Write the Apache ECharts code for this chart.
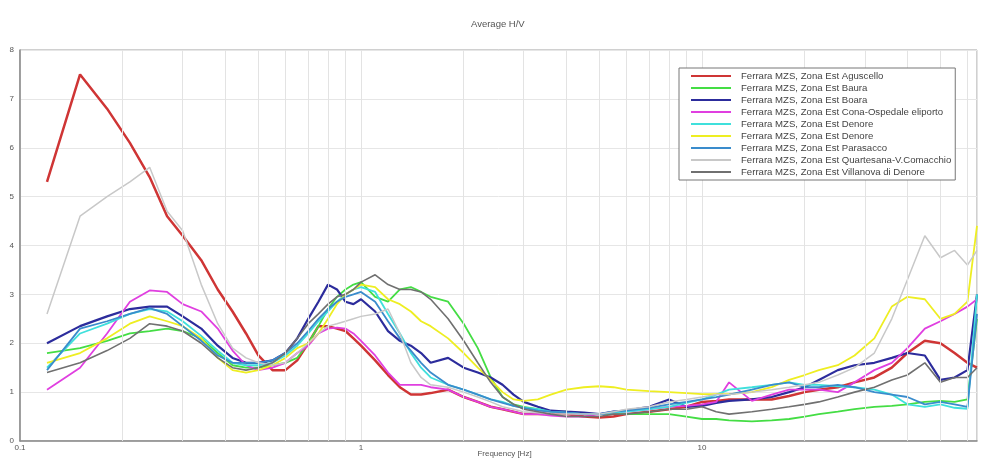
<!DOCTYPE html>
<html>
<head>
<meta charset="utf-8">
<script src="https://cdn.jsdelivr.net/npm/echarts@6/dist/echarts.min.js"></script>
<style>html,body{margin:0;padding:0;background:#fff}#c{width:983px;height:460px}</style>
</head>
<body>
<div id="c"></div>
<script>
const titleText = "Average H/V";
const xAxisName = "Frequency [Hz]";
const xTickLabels = [0.1, 1, 10];
const yTicks = [0, 1, 2, 3, 4, 5, 6, 7, 8];
const minorGrid = [0.2,0.3,0.4,0.5,0.6,0.7,0.8,0.9,2,3,4,5,6,7,8,9,20,30,40,50,60];

const freq = [0.12,0.15,0.18,0.21,0.24,0.27,0.30,0.34,0.38,0.42,0.46,0.5,0.55,0.6,0.65,0.7,0.75,0.8,0.85,0.9,0.95,1.0,1.1,1.2,1.3,1.4,1.5,1.6,1.8,2.0,2.2,2.4,2.6,2.8,3.0,3.3,3.6,4,4.5,5,5.5,6,7,8,9,10,11,12,14,16,18,20,22,25,28,32,36,40,45,50,55,60,64];

const names = [
  "Ferrara MZS, Zona Est Aguscello",
  "Ferrara MZS, Zona Est Baura",
  "Ferrara MZS, Zona Est Boara",
  "Ferrara MZS, Zona Est Cona-Ospedale eliporto",
  "Ferrara MZS, Zona Est Denore",
  "Ferrara MZS, Zona Est Denore ",
  "Ferrara MZS, Zona Est Parasacco",
  "Ferrara MZS, Zona Est Quartesana-V.Comacchio",
  "Ferrara MZS, Zona Est Villanova di Denore"
];
const colors = ["#cf3535","#44dd44","#2c2c9c","#e03fe0","#3fe0dc","#eeee22","#3a8ccc","#c8c8c8","#707070"];
const widths = [2.5,1.8,2.2,1.8,1.8,1.8,1.8,1.5,1.6];

const aguscello = [5.3,7.5,6.8,6.1,5.4,4.6,4.2,3.7,3.1,2.65,2.2,1.75,1.45,1.45,1.65,2.0,2.35,2.35,2.3,2.25,2.1,1.95,1.65,1.35,1.1,0.95,0.95,0.98,1.05,0.9,0.8,0.7,0.65,0.6,0.55,0.55,0.55,0.55,0.5,0.48,0.5,0.55,0.6,0.65,0.7,0.8,0.82,0.85,0.85,0.85,0.92,1.0,1.05,1.1,1.2,1.3,1.5,1.8,2.05,2.0,1.8,1.6,1.5];
const baura = [1.8,1.9,2.05,2.2,2.25,2.3,2.25,2.1,1.8,1.55,1.5,1.5,1.55,1.6,1.7,2.0,2.35,2.7,2.95,3.1,3.2,3.25,2.95,2.85,3.1,3.15,3.05,2.95,2.85,2.4,1.9,1.3,0.9,0.75,0.7,0.65,0.6,0.6,0.55,0.55,0.55,0.55,0.55,0.55,0.5,0.45,0.45,0.42,0.4,0.42,0.45,0.5,0.55,0.6,0.65,0.7,0.72,0.75,0.8,0.82,0.8,0.85,2.5];
const boara = [2.0,2.35,2.55,2.7,2.75,2.75,2.55,2.3,1.95,1.7,1.6,1.6,1.65,1.8,2.1,2.5,2.85,3.2,3.1,2.85,2.8,2.9,2.65,2.25,2.05,1.95,1.8,1.6,1.7,1.5,1.4,1.3,1.15,0.95,0.8,0.7,0.62,0.6,0.58,0.55,0.6,0.62,0.7,0.85,0.7,0.72,0.78,0.82,0.85,0.9,1.0,1.1,1.25,1.45,1.55,1.6,1.7,1.8,1.75,1.25,1.3,1.45,3.0];
const cona = [1.05,1.5,2.2,2.85,3.08,3.05,2.8,2.65,2.3,1.85,1.55,1.45,1.5,1.6,1.8,1.95,2.2,2.3,2.32,2.3,2.2,2.05,1.75,1.4,1.15,1.15,1.15,1.1,1.05,0.9,0.8,0.7,0.65,0.6,0.55,0.55,0.52,0.5,0.5,0.55,0.58,0.6,0.65,0.7,0.72,0.75,0.8,1.2,0.82,0.95,1.05,1.05,1.05,1.0,1.2,1.45,1.6,1.9,2.3,2.45,2.6,2.75,2.9];
const denoreA = [1.5,2.2,2.4,2.6,2.7,2.65,2.45,2.15,1.85,1.6,1.55,1.55,1.6,1.75,1.95,2.2,2.45,2.65,2.85,3.0,3.1,3.15,3.05,2.6,2.2,1.8,1.5,1.3,1.15,1.05,0.95,0.85,0.8,0.72,0.68,0.65,0.6,0.58,0.55,0.55,0.58,0.6,0.65,0.7,0.78,0.85,0.95,1.05,1.1,1.15,1.2,1.15,1.15,1.12,1.1,1.05,0.95,0.75,0.7,0.75,0.68,0.66,3.0];
const denoreB = [1.6,1.8,2.1,2.4,2.55,2.45,2.35,2.1,1.7,1.45,1.4,1.45,1.55,1.7,1.9,2.0,2.2,2.5,2.8,3.0,3.1,3.2,3.15,2.9,2.8,2.65,2.45,2.35,2.1,1.8,1.5,1.25,1.0,0.85,0.82,0.85,0.95,1.05,1.1,1.12,1.1,1.05,1.02,1.0,0.98,0.96,0.96,0.96,1.0,1.1,1.25,1.35,1.45,1.55,1.75,2.1,2.75,2.95,2.9,2.5,2.6,2.85,4.4];
const parasacco = [1.45,2.3,2.45,2.6,2.72,2.6,2.35,2.05,1.75,1.6,1.6,1.6,1.65,1.8,2.0,2.25,2.5,2.7,2.85,2.95,3.0,3.05,2.85,2.45,2.1,1.85,1.6,1.4,1.15,1.05,0.95,0.85,0.78,0.72,0.68,0.62,0.6,0.58,0.55,0.55,0.6,0.62,0.68,0.75,0.8,0.85,0.9,0.95,1.05,1.15,1.2,1.1,1.1,1.15,1.1,1.0,0.95,0.9,0.75,0.8,0.75,0.7,2.6];
const quartesana = [2.6,4.6,5.0,5.3,5.6,4.7,4.3,3.2,2.4,1.9,1.7,1.6,1.55,1.6,1.8,2.0,2.2,2.35,2.4,2.45,2.5,2.55,2.6,2.7,2.2,1.6,1.3,1.15,1.1,1.0,0.9,0.8,0.7,0.65,0.6,0.58,0.55,0.55,0.55,0.55,0.6,0.65,0.7,0.8,0.85,0.9,0.95,0.95,1.0,1.05,1.1,1.15,1.2,1.35,1.5,1.8,2.5,3.3,4.2,3.75,3.9,3.6,3.9];
const villanova = [1.4,1.6,1.85,2.1,2.4,2.35,2.25,2.0,1.7,1.5,1.45,1.5,1.6,1.8,2.1,2.4,2.6,2.8,2.95,3.0,3.1,3.25,3.4,3.2,3.1,3.1,3.05,2.9,2.5,2.05,1.6,1.2,0.9,0.75,0.65,0.6,0.55,0.5,0.5,0.5,0.55,0.55,0.6,0.65,0.65,0.7,0.6,0.55,0.6,0.65,0.7,0.75,0.8,0.9,1.0,1.1,1.25,1.35,1.6,1.2,1.3,1.3,1.5];

const allValues = [aguscello, baura, boara, cona, denoreA, denoreB, parasacco, quartesana, villanova];

const series = allValues.map((vals, i) => ({
  name: names[i],
  type: 'line',
  symbol: 'none',
  smooth: false,
  color: colors[i],
  lineStyle: { width: widths[i], color: colors[i] },
  data: vals.map((v, k) => [freq[k], v]),
  z: 3
}));
series.push({
  name: '_grid',
  type: 'line',
  data: [],
  silent: true,
  markLine: {
    silent: true,
    symbol: 'none',
    label: { show: false },
    lineStyle: { color: '#e3e3e3', width: 1, type: 'solid' },
    data: minorGrid.map(v => ({ xAxis: v }))
  },
  z: 1
});

const chart = echarts.init(document.getElementById('c'), null, { renderer: 'canvas' });
chart.setOption({
  animation: false,
  backgroundColor: '#ffffff',
  textStyle: { fontFamily: 'Liberation Sans, Arial, sans-serif' },
  title: {
    text: titleText,
    left: 466, top: 14,
    textStyle: { fontSize: 9.5, fontWeight: 'normal', color: '#555' }
  },
  grid: { left: 20, right: 6, top: 50, bottom: 19, outerBoundsMode: 'none', containLabel: false, show: true, borderColor: '#a0a0a0', borderWidth: 1 },
  legend: {
    data: names,
    orient: 'vertical',
    left: 679, top: 68,
    padding: [3, 4, 3, 11],
    itemGap: 2,
    itemWidth: 40, itemHeight: 10,
    backgroundColor: '#fff',
    borderColor: '#777', borderWidth: 1,
    itemStyle: { color: 'rgba(0,0,0,0)', borderColor: 'rgba(0,0,0,0)', borderWidth: 0 },
    textStyle: { fontSize: 9.6, lineHeight: 10, color: '#444', padding: [0, 0, 0, 5] },
    z: 10
  },
  xAxis: {
    type: 'log', logBase: 10, min: 0.1, max: 64,
    name: xAxisName, nameLocation: 'middle', nameGap: 9, nameMoveOverlap: false,
    nameTextStyle: { fontSize: 8, color: '#555', padding: [0, 0, 0, 12] },
    axisLine: { show: true, lineStyle: { color: '#8a8a8a', width: 1.5 } },
    axisTick: { show: false },
    axisLabel: {
      fontSize: 8, color: '#555', margin: 3,
      formatter: v => {
        const m = xTickLabels.find(t => Math.abs(t - v) / t < 1e-6);
        return m !== undefined ? String(m) : '';
      }
    },
    splitLine: { show: true, lineStyle: { color: '#e3e3e3', width: 1 } }
  },
  yAxis: {
    type: 'value', min: yTicks[0], max: yTicks[yTicks.length - 1], interval: 1,
    axisLine: { show: true, lineStyle: { color: '#8a8a8a', width: 1.5 } },
    axisTick: { show: false },
    axisLabel: { fontSize: 8, color: '#555', margin: 6 },
    splitLine: { show: true, lineStyle: { color: '#e6e6e6', width: 1 } }
  },
  series: series
});
</script>
</body>
</html>
